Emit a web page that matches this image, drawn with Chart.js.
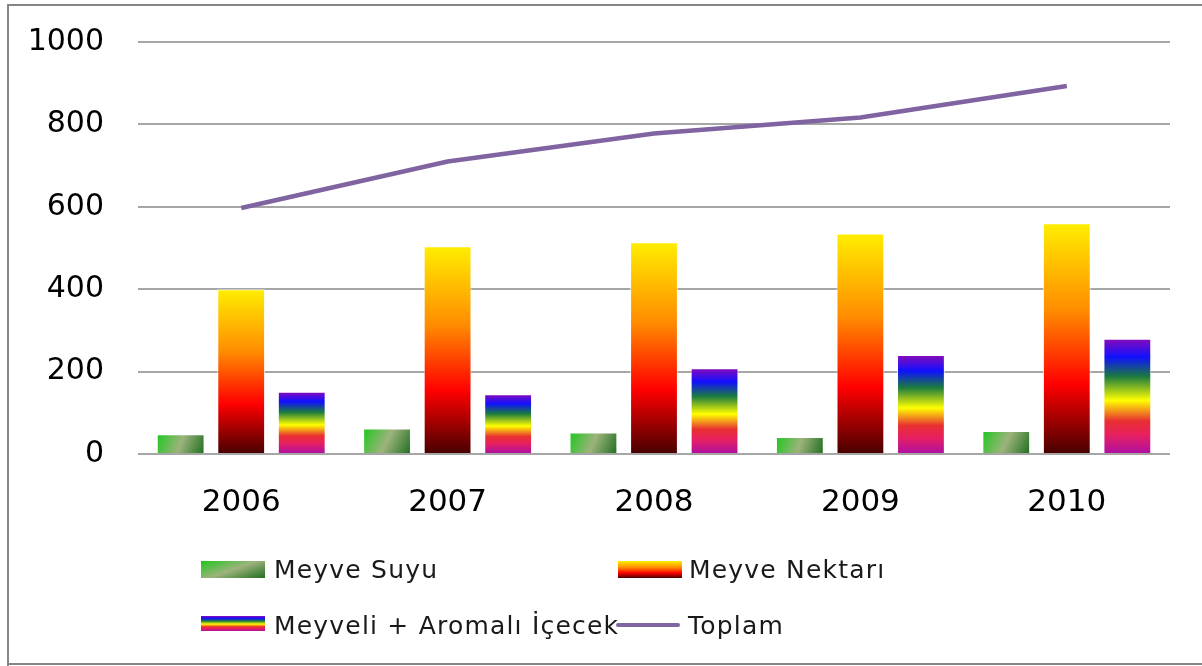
<!DOCTYPE html>
<html>
<head>
<meta charset="utf-8">
<script src="https://cdn.jsdelivr.net/npm/chart.js@4"></script>
<style>
  html, body { margin: 0; padding: 0; background: #fff; overflow: hidden; }
  #wrap { position: relative; width: 1202px; height: 666px; overflow: hidden; }
  .edge { position: absolute; background: #868686; }
  #chart { position: absolute; left: 0; top: -10px; }
  .lg { position: absolute; font-family: "DejaVu Sans", sans-serif; font-size: 25px;
        line-height: 25px; letter-spacing: 1.2px; color: #1a1a1a; white-space: nowrap; }
  .sw { position: absolute; width: 64px; height: 17px; }
</style>
</head>
<body>
<div id="wrap">
  <div class="edge" style="left:7px;top:4px;width:1195px;height:2px"></div>
  <div class="edge" style="left:7px;top:4px;width:2px;height:662px"></div>
  <div class="edge" style="left:7px;top:663px;width:1195px;height:2px"></div>
  <canvas id="chart" width="1202" height="676"></canvas>

  <div class="sw" style="left:201px;top:561px;background:linear-gradient(160deg,#1ec81e 0%,#9db37c 50%,#1f6e1f 100%)"></div>
  <div class="lg" style="left:274px;top:557px">Meyve Suyu</div>
  <div class="sw" style="left:618px;top:561px;background:linear-gradient(180deg,#ffee00 0%,#ff8c00 38%,#ff0000 70%,#4d0000 100%)"></div>
  <div class="lg" style="left:689px;top:557px">Meyve Nektarı</div>

  <div class="sw" style="left:201px;top:616px;height:15px;background:linear-gradient(180deg,#8a0ab8 0%,#1010ff 16%,#1a7a40 33%,#ffff00 54%,#f08020 65%,#e83030 72%,#e82060 84%,#b010a0 100%)"></div>
  <div class="lg" style="left:274px;top:613px">Meyveli + Aromalı İçecek</div>
  <div class="sw" style="left:616px;top:623px;height:4px;border-radius:2px;background:#8064a2"></div>
  <div class="lg" style="left:688px;top:613px">Toplam</div>
</div>

<script>
const years = ["2006", "2007", "2008", "2009", "2010"];
const meyveSuyu = [48, 62, 52, 41, 56];
const meyveNektari = [400, 504, 514, 535, 560];
const meyveliIcecek = [151, 145, 208, 240, 280];
const toplam = [597, 710, 778, 817, 893];
const yTicks = [0, 200, 400, 600, 800, 1000];

const nektarStops = [[0, "#ffee00"], [0.38, "#ff8c00"], [0.7, "#ff0000"], [0.86, "#9e0000"], [1, "#4a0000"]];
const rainbowStops = [[0, "#8a0ab8"], [0.16, "#1010ff"], [0.33, "#1a7a40"], [0.54, "#ffff00"],
  [0.65, "#f08020"], [0.72, "#e83030"], [0.84, "#e82060"], [1, "#b010a0"]];
const suyuStops = [[0, "#1ec81e"], [0.5, "#9db37c"], [1, "#1f6e1f"]];

function makeGradient(ctx, x0, y0, x1, y1, stops) {
  const g = ctx.createLinearGradient(x0, y0, x1, y1);
  stops.forEach(([p, c]) => g.addColorStop(p, c));
  return g;
}

// each bar gets its own gradient, sized to the bar
const gradientBars = {
  id: "gradientBars",
  beforeDatasetsDraw(chart) {
    const ctx = chart.ctx;
    chart.data.datasets.forEach((ds, i) => {
      if (!ds.fillStops) return;
      chart.getDatasetMeta(i).data.forEach((bar) => {
        const left = bar.x - bar.width / 2;
        const right = bar.x + bar.width / 2;
        const g = ds.diagonal
          ? makeGradient(ctx, left, bar.y, right, bar.base, ds.fillStops)
          : makeGradient(ctx, 0, bar.y, 0, bar.base, ds.fillStops);
        bar.options = Object.assign({}, bar.options, { backgroundColor: g });
      });
    });
  }
};

const barStyle = {
  borderColor: "rgba(255,255,255,0.75)",
  borderWidth: 1,
  categoryPercentage: 0.88,
  barPercentage: 0.79,
  order: 1
};

new Chart(document.querySelector("#chart"), {
  type: "bar",
  data: {
    labels: years,
    datasets: [
      { label: "Meyve Suyu", data: meyveSuyu, backgroundColor: "#5aa04a",
        fillStops: suyuStops, diagonal: true, ...barStyle },
      { label: "Meyve Nektarı", data: meyveNektari, backgroundColor: "#ff6000",
        fillStops: nektarStops, ...barStyle },
      { label: "Meyveli + Aromalı İçecek", data: meyveliIcecek, backgroundColor: "#40a060",
        fillStops: rainbowStops, ...barStyle },
      { type: "line", label: "Toplam", data: toplam, borderColor: "#8064a2",
        backgroundColor: "#8064a2", borderWidth: 4.5, pointRadius: 0, tension: 0, order: 0 }
    ]
  },
  options: {
    responsive: false,
    animation: false,
    layout: { padding: { top: 31, right: 32, left: 0, bottom: 0 } },
    plugins: { legend: { display: false }, tooltip: { enabled: false } },
    scales: {
      x: {
        grid: { display: false, drawTicks: false },
        border: { display: false },
        ticks: { color: "#000", padding: 30, font: { family: "DejaVu Sans", size: 31 } },
        afterFit: (scale) => { scale.height = 212; }
      },
      y: {
        min: 0,
        max: 1000,
        afterBuildTicks: (scale) => { scale.ticks = yTicks.map((v) => ({ value: v })); },
        grid: { color: "#a6a6a6", lineWidth: 2, drawTicks: false },
        border: { display: false },
        ticks: {
          color: "#000",
          padding: 34,
          font: { family: "DejaVu Sans", size: 30 },
          callback: (v) => String(v)
        },
        afterFit: (scale) => { scale.width = 138; }
      }
    }
  },
  plugins: [gradientBars]
});
</script>
</body>
</html>
